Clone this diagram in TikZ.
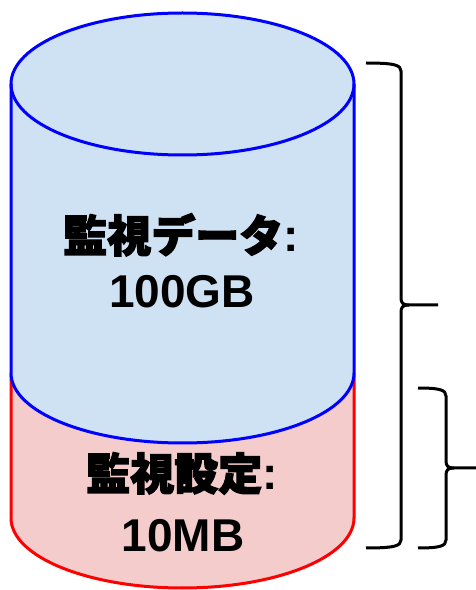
\documentclass[tikz,border=0pt]{standalone}
\usepackage{fontspec}
\setmainfont{Liberation Sans}
\newfontfamily\jp{Noto Sans CJK JP}
\newcommand\jpheavy{\jp\bfseries\addfontfeatures{FakeBold=3}}
\definecolor{bluefill}{RGB}{207,226,243}
\definecolor{redfill}{RGB}{244,204,204}
\begin{document}
\begin{tikzpicture}[x=1pt,y=1pt,
  blueline/.style={draw={rgb,255:red,0;green,0;blue,255},line width=3pt},
  redline/.style={draw={rgb,255:red,255;green,0;blue,0},line width=3pt},
  bracestyle/.style={draw=black,line width=3pt,line join=round},
  lbl/.style={inner sep=0pt,anchor=base,font=\bfseries}]
\useasboundingbox (0,0) rectangle (476,590);
% red lower section
\fill[redfill] (11,217) -- (11,72) arc[start angle=180,end angle=360,x radius=171.5pt,y radius=70pt] -- (354,217) -- cycle;
\draw[redline] (11,217) -- (11,72) arc[start angle=180,end angle=360,x radius=171.5pt,y radius=70pt] -- (354,217);
% blue upper section
\fill[bluefill] (11,506) -- (11,217) arc[start angle=180,end angle=360,x radius=171.5pt,y radius=70pt] -- (354,506) arc[start angle=0,end angle=180,x radius=171.5pt,y radius=71pt] -- cycle;
\draw[blueline] (11,506) -- (11,217) arc[start angle=180,end angle=360,x radius=171.5pt,y radius=70pt] -- (354,506);
\draw[blueline] (182.5,506) ellipse[x radius=171.5pt,y radius=71pt];
% labels
\node[lbl] (data) at (181,338) {\fontsize{44}{50}\selectfont{\jpheavy 監視データ}\fontsize{46}{50}\selectfont:};
\node[lbl] (datasize) at (182,282) {\fontsize{46}{50}\selectfont 100GB};
\node[lbl] (conf) at (182,100) {\fontsize{44}{50}\selectfont{\jpheavy 監視設定}\fontsize{46}{50}\selectfont:};
\node[lbl] (confsize) at (183,38) {\fontsize{46}{50}\selectfont 10MB};
% braces
\draw[bracestyle] (366,527) .. controls (394,527) and (401,525) .. (401,519) -- (401,292) .. controls (401,287) and (403,285) .. (409,285) -- (438,285);
\draw[bracestyle] (409,285) .. controls (403,285) and (401,283) .. (401,278) -- (401,50) .. controls (401,44) and (394,42) .. (366,42);
\draw[bracestyle] (418,202) .. controls (440,202) and (446,200) .. (446,194) -- (446,129) .. controls (446,124) and (448,122) .. (454,122) -- (476,122);
\draw[bracestyle] (454,122) .. controls (448,122) and (446,120) .. (446,115) -- (446,50) .. controls (446,44) and (440,42) .. (418,42);
\end{tikzpicture}
\end{document}
